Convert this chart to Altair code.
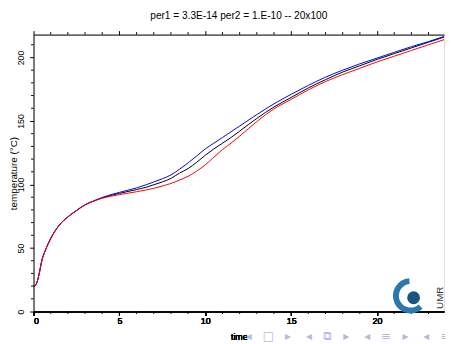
import altair as alt
import pandas as pd

# time and temperatures for the three runs
time = [0, 0.1, 0.2, 0.3, 0.5, 0.7, 1.0, 1.5, 2.0, 2.5, 3.0, 3.5, 4.0, 5.0, 6.0,
        6.6, 7.0, 7.5, 8.0, 8.5, 9.0, 9.5, 10.0, 10.5, 11.0, 11.5, 12.0, 13.0,
        14.0, 15.0, 16.0, 17.0, 18.0, 19.0, 20.0, 21.0, 22.0, 23.0, 23.9]
blue = [20, 20.5, 23, 28, 41, 48.5, 57.5, 68, 74.5, 79.5, 84, 87, 89.8, 93.8, 97.3,
        100, 102, 104.5, 107.5, 112, 117, 122.5, 128, 132.5, 137, 141.5, 146, 155,
        163.5, 171, 178, 184.5, 190, 195, 199.5, 204, 208.5, 212.5, 216.5]
black = [20, 20.5, 23, 28, 41, 48.5, 57.5, 68, 74.5, 79.5, 84, 87, 89.5, 93, 96,
         98, 99.8, 102, 104.8, 109, 112.5, 117.5, 123, 128, 132.5, 137, 142, 152,
         161, 168.5, 176, 182.5, 188.5, 193.5, 198.5, 203, 207.5, 212, 216]
red = [20, 20.5, 23, 28, 41, 48.5, 57.5, 68, 74.5, 79.5, 84, 87, 89.2, 92, 94.3,
       95.8, 97, 98.8, 100.8, 103.5, 106.5, 110.5, 115.5, 121.5, 127.5, 132.5, 138, 149.5,
       159.5, 167, 174.5, 181, 186.5, 191.5, 196.5, 201, 205.5, 210, 214]

series_names = ["black", "blue", "red"]
series_colors = ["#000000", "#0000ff", "#ff0000"]

x_major = [0, 5, 10, 15, 20]
y_major = [0, 50, 100, 150, 200]
x_minor = [v for v in range(1, 24) if v % 5 != 0]
y_minor = [v for v in range(10, 220, 10) if v % 50 != 0]

title_text = "per1 = 3.3E-14 per2 = 1.E-10 -- 20x100"
S3 = "\u00a0" * 3
S4 = "\u00a0" * 4
nav_text = S3.join(["◂", "□", "▸"]) + S4 + S3.join(["◂", "⧉", "▸"]) + S4 + \
    S3.join(["◂", "≡", "▸"]) + S4 + S3.join(["◂", "≡"])

W, H = 418, 282
FONT = "Liberation Sans"

rows = []
for name, vals in zip(series_names, [black, blue, red]):
    for t, v in zip(time, vals):
        rows.append({"time": t, "temp": v, "run": name})
df = pd.DataFrame(rows)

xs = alt.Scale(domain=[0, 23.9], nice=False, zero=False)
ys = alt.Scale(domain=[0, 218], nice=False, zero=False)

x_axis = alt.Axis(values=x_major, orient="bottom", grid=False, tickSize=4,
                  labelPadding=1, labelFontSize=9, labelFont=FONT,
                  titleFontSize=9, titleFont=FONT, titleFontWeight="normal",
                  titleBaseline="middle", titleY=26,
                  domainColor="black", tickColor="black", labelColor="black",
                  titleColor="black")
y_axis = alt.Axis(values=y_major, grid=False, tickSize=4, labelAngle=270,
                  labelPadding=4, labelFontSize=9, labelFont=FONT,
                  labelAlign="center", labelBaseline="bottom",
                  titleFontSize=10, titleFont=FONT, titleFontWeight="normal",
                  titleAngle=270, titleBaseline="middle", titleAlign="center",
                  titleX=-20.5, titleY=H / 2,
                  domainColor="black", tickColor="black", labelColor="black",
                  titleColor="black")


def X(field="time"):
    return alt.X(f"{field}:Q", scale=xs, title="time", axis=x_axis)


def Y(field="temp"):
    return alt.Y(f"{field}:Q", scale=ys, title="temperature (°C)", axis=y_axis)


base = alt.Chart(df)
layers = []
for name in ["black", "blue", "red"]:
    layers.append(base.transform_filter(alt.datum.run == name)
                  .mark_line(strokeWidth=1, interpolate="monotone").encode(
        x=X(), y=Y(),
        color=alt.Color("run:N", scale=alt.Scale(domain=series_names, range=series_colors),
                        legend=None)))

# top frame axis (ticks only)
top_axis = alt.Chart(pd.DataFrame({"time": x_major})).mark_tick(opacity=0).encode(
    x=alt.X("time:Q", scale=xs, title=None,
            axis=alt.Axis(orient="top", values=x_major, labels=False, title=None,
                          grid=False, tickSize=4, domainColor="black", tickColor="black")),
)

xm = pd.DataFrame({"time": x_minor})
ym = pd.DataFrame({"temp": y_minor})
minor_bottom = alt.Chart(xm).mark_rule(color="black", strokeWidth=1).encode(
    x=X(), y=alt.value(H), y2=alt.value(H + 2.5))
minor_top = alt.Chart(xm).mark_rule(color="black", strokeWidth=1).encode(
    x=X(), y=alt.value(0), y2=alt.value(-2.5))
minor_left = alt.Chart(ym).mark_rule(color="black", strokeWidth=1).encode(
    y=Y(), x=alt.value(0), x2=alt.value(-2.5))

title = alt.Chart(pd.DataFrame({"t": [title_text]})).mark_text(
    fontSize=10.3, font=FONT, baseline="middle", align="center", color="black").encode(
    text="t:N", x=alt.value(W / 2), y=alt.value(-18.5))

nav = alt.Chart(pd.DataFrame({"t": [nav_text]})).mark_text(
    fontSize=12, font="DejaVu Sans", baseline="middle", align="left", color="#b4b8dc").encode(
    text="t:N", x=alt.value(216), y=alt.value(307))

logo_arc = alt.Chart(pd.DataFrame({"a": [1]})).mark_arc(
    radius=18, radius2=12, theta=2.4, theta2=6.2, color="#2b78ad").encode(
    x=alt.value(384), y=alt.value(266))
logo_ball = alt.Chart(pd.DataFrame({"a": [1]})).mark_point(
    filled=True, size=170, opacity=1, color="#17557f").encode(
    x=alt.value(387), y=alt.value(268))
logo_text = alt.Chart(pd.DataFrame({"t": ["UMR"]})).mark_text(
    fontSize=10, font=FONT, angle=270, baseline="middle", align="center",
    color="#333333").encode(text="t:N", x=alt.value(414), y=alt.value(268))

chart = alt.layer(*layers, top_axis, minor_bottom, minor_top, minor_left, title, nav,
                  logo_arc, logo_ball, logo_text).properties(
    width=W, height=H,
    autosize=alt.AutoSizeParams(type="none"),
    padding={"left": 26, "top": 24, "right": 1, "bottom": 30},
).configure_view(strokeWidth=0, stroke="transparent").configure(background="white")

chart.save("out.html", embed_options={"renderer": "svg", "actions": False})
